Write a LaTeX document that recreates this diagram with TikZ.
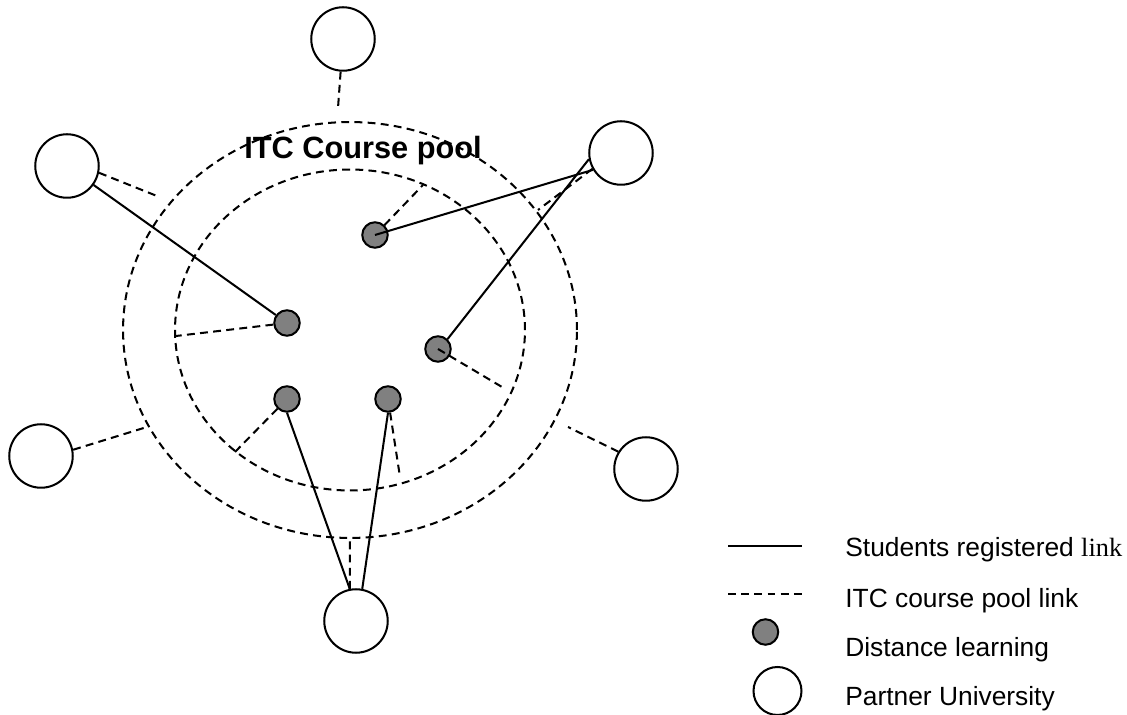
\documentclass[tikz,border=0pt]{standalone}
\usepackage{fontspec}
\setmainfont{Liberation Sans}
\newfontfamily\serifpart{Liberation Serif}
\definecolor{dotgray}{RGB}{128,128,128}
\tikzset{
  partner/.style={draw,circle,line width=1.15pt,minimum size=1.27cm,inner sep=0pt,fill=white},
  distlearn/.style={draw,circle,line width=1.15pt,minimum size=0.51cm,inner sep=0pt,fill=dotgray},
  reglink/.style={draw,line width=1.15pt},
  poollink/.style={draw,line width=1.15pt,dash pattern=on 4.5pt off 3pt},
  legendtext/.style={anchor=base west,inner sep=0pt,font=\fontsize{15}{18}\selectfont}
}
\begin{document}
\begin{tikzpicture}[x=0.02cm,y=-0.02cm]
        \path[use as bounding box] (0,0) rectangle (1127,715);
        % course pool
        \path[poollink] (350,330) ellipse [x radius=4.54cm, y radius=4.16cm];
        \path[poollink] (350,330) ellipse [x radius=3.5cm, y radius=3.21cm];
        \node[anchor=base,inner sep=0pt,font=\fontsize{17.5}{20}\selectfont\bfseries] at (363,159) (pool) {ITC Course pool};
        % partner universities
        \node[partner] at (343,39) (ptop) {};
        \node[partner] at (67,166) (plt) {};
        \node[partner] at (621,153) (prt) {};
        \node[partner] at (41,456) (pl) {};
        \node[partner] at (646,469) (pr) {};
        \node[partner] at (356,621) (pbot) {};
        % distance learning
        \node[distlearn] at (375,235) (d1) {};
        \node[distlearn] at (287,323) (d2) {};
        \node[distlearn] at (438,349) (d3) {};
        \node[distlearn] at (287,399) (d4) {};
        \node[distlearn] at (388,399) (d5) {};
        % ends on the pool circles
        \coordinate (otop) at (338,108);
        \coordinate (olt) at (157,196);
        \coordinate (ort) at (538,210);
        \coordinate (ol) at (147,427);
        \coordinate (or) at (568,427);
        \coordinate (obot) at (350,539);
        \coordinate (i1) at (423,185);
        \coordinate (i2) at (176,336);
        \coordinate (i3) at (502,387);
        \coordinate (i4) at (235,452);
        \coordinate (i5) at (400,477);
        % students registered links
        \path[reglink] (plt) -- (d2);
        \path[reglink] (d1.center) -- (prt.211);
        \path[reglink] (d3.46) -- (prt.191);
        \path[reglink] (d4.south) -- (pbot.101);
        \path[reglink] (d5.south) -- (pbot.79);
        % ITC course pool links
        \path[poollink] (ptop) -- (otop);
        \path[poollink] (plt.-12) -- (olt);
        \path[poollink] (prt.209) -- (ort);
        \path[poollink] (pl.11) -- (ol);
        \path[poollink] (pr.148) -- (or);
        \path[poollink] (pbot.101) -- (obot);
        \path[poollink] (d1) -- (i1);
        \path[poollink] (d2) -- (i2);
        \path[poollink] (d3.center) -- (i3);
        \path[poollink] (d4) -- (i4);
        \path[poollink] (d5) -- (i5);
        % legend
        \coordinate (ls1) at (728,546);
        \coordinate (ls2) at (802,546);
        \coordinate (lp1) at (728,594);
        \coordinate (lp2) at (803,594);
        \path[reglink] (ls1) -- (ls2);
        \path[poollink] (lp1) -- (lp2);
        \node[distlearn] at (765.5,632) (ldot) {};
        \node[partner,minimum size=0.96cm] at (777.5,691) (lpartner) {};
        \node[legendtext] at (845,557) (lreg) {Students registered {\serifpart link}};
        \node[legendtext] at (845,608) (lpool) {ITC course pool link};
        \node[legendtext] at (845,657) (ldist) {Distance learning};
        \node[legendtext] at (845,706) (lpart) {Partner University};
      \end{tikzpicture}
\end{document}
